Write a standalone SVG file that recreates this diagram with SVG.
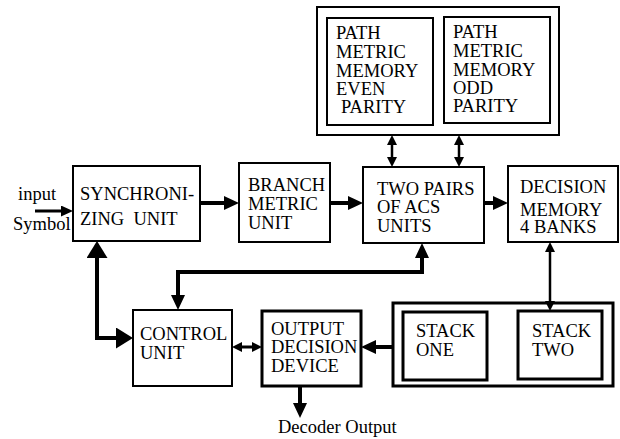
<svg xmlns="http://www.w3.org/2000/svg" width="620" height="439" viewBox="0 0 620 439">
<style>
text{font-family:"Liberation Serif","Times New Roman",serif;font-size:18.5px;fill:#000}
.b{fill:#fff;stroke:#000;stroke-width:2}
.bt{fill:#fff;stroke:#000;stroke-width:3}
.c{fill:none;stroke:#000}
</style>
<defs>
<marker id="m" markerUnits="userSpaceOnUse" markerWidth="15" markerHeight="14" refX="9" refY="7" orient="auto-start-reverse"><path d="M0,0 L15,7 L0,14z" fill="#000"/></marker>
<marker id="s" markerUnits="userSpaceOnUse" markerWidth="10" markerHeight="10" refX="5" refY="5" orient="auto-start-reverse"><path d="M0,0 L10,5 L0,10z" fill="#000"/></marker>
<marker id="i" markerUnits="userSpaceOnUse" markerWidth="12" markerHeight="11" refX="7" refY="5.5" orient="auto-start-reverse"><path d="M0,0 L12,5.5 L0,11z" fill="#000"/></marker>
<marker id="l" markerUnits="userSpaceOnUse" markerWidth="17" markerHeight="21" refX="11" refY="10.5" orient="auto-start-reverse"><path d="M0,0 L17,10.5 L0,21z" fill="#000"/></marker>
</defs>
<g id="labels">
<text x="18" y="200">input</text>
<text x="13" y="230">Symbol</text>
<text x="278" y="433">Decoder Output</text>
</g>
<g id="path-metric-memory">
<rect class="b" x="317" y="7" width="242" height="128"/>
<g id="pmm-even">
<rect class="b" x="327" y="18" width="106" height="107"/>
<text x="336" y="39">PATH</text>
<text x="336" y="58">METRIC</text>
<text x="336" y="77">MEMORY</text>
<text x="336" y="95">EVEN</text>
<text x="341" y="113">PARITY</text>
</g>
<g id="pmm-odd">
<rect class="b" x="444" y="17" width="106" height="106"/>
<text x="453" y="38">PATH</text>
<text x="453" y="57">METRIC</text>
<text x="453" y="76">MEMORY</text>
<text x="453" y="94">ODD</text>
<text x="453" y="112">PARITY</text>
</g>
</g>
<g id="sync">
<rect class="b" x="73" y="166" width="127" height="75"/>
<text x="80" y="200">SYNCHRONI-</text>
<text x="80" y="225" style="white-space:pre" xml:space="preserve">ZING  UNIT</text>
</g>
<g id="branch">
<rect class="b" x="239" y="163" width="91" height="79"/>
<text x="248" y="191">BRANCH</text>
<text x="248" y="210">METRIC</text>
<text x="248" y="229">UNIT</text>
</g>
<g id="acs">
<rect class="b" x="363" y="167" width="121" height="76"/>
<text x="377" y="195">TWO PAIRS</text>
<text x="377" y="213">OF ACS</text>
<text x="377" y="232">UNITS</text>
</g>
<g id="decision">
<rect class="b" x="508" y="166" width="110" height="76"/>
<text x="520" y="193">DECISION</text>
<text x="520" y="216">MEMORY</text>
<text x="520" y="233">4 BANKS</text>
</g>
<g id="control">
<rect class="b" x="133" y="310" width="99" height="76"/>
<text x="140" y="340">CONTROL</text>
<text x="140" y="359">UNIT</text>
</g>
<g id="output">
<rect class="bt" x="262" y="311" width="99" height="75"/>
<text x="271" y="335">OUTPUT</text>
<text x="271" y="353">DECISION</text>
<text x="271" y="372">DEVICE</text>
</g>
<g id="stacks">
<rect class="bt" x="393" y="303" width="220" height="83"/>
<g id="stack-one">
<rect class="bt" x="403" y="312" width="84" height="68"/>
<text x="416" y="337">STACK</text>
<text x="416" y="356">ONE</text>
</g>
<g id="stack-two">
<rect class="bt" x="518" y="311" width="84" height="68"/>
<text x="532" y="337">STACK</text>
<text x="532" y="356">TWO</text>
</g>
</g>
<g id="connectors">
<line class="c" x1="35" y1="211" x2="68" y2="211" stroke-width="3" marker-end="url(#i)"/>
<line class="c" x1="200" y1="203" x2="233" y2="203" stroke-width="4" marker-end="url(#m)"/>
<line class="c" x1="330" y1="203" x2="357" y2="203" stroke-width="4" marker-end="url(#m)"/>
<line class="c" x1="484" y1="203" x2="502" y2="203" stroke-width="4" marker-end="url(#m)"/>
<line class="c" x1="392" y1="140" x2="392" y2="162" stroke-width="2.5" marker-start="url(#s)" marker-end="url(#s)"/>
<line class="c" x1="459" y1="140" x2="459" y2="162" stroke-width="2.5" marker-start="url(#s)" marker-end="url(#s)"/>
<path class="c" d="M422,249 V272 H178 V304" stroke-width="4" marker-start="url(#m)" marker-end="url(#m)"/>
<path class="c" d="M97,247 V338 H127" stroke-width="4" marker-start="url(#l)" marker-end="url(#l)"/>
<line class="c" x1="237" y1="347" x2="257" y2="347" stroke-width="3" marker-start="url(#s)" marker-end="url(#s)"/>
<line class="c" x1="393" y1="347" x2="367" y2="347" stroke-width="4" marker-end="url(#m)"/>
<line class="c" x1="300" y1="386" x2="300" y2="412" stroke-width="4" marker-end="url(#m)"/>
<line class="c" x1="550" y1="247" x2="550" y2="306" stroke-width="2.5" marker-start="url(#s)" marker-end="url(#s)"/>
</g>
</svg>
